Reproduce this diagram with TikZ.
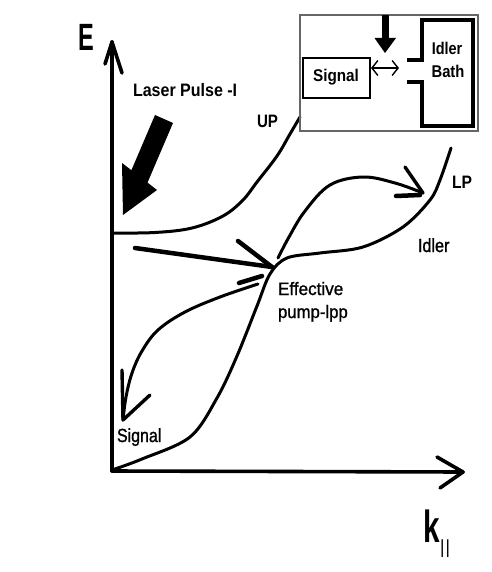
\documentclass[tikz,border=0pt]{standalone}
\usepackage{fontspec}
\setmainfont{Liberation Sans}
\newfontfamily\semib{Liberation Sans}[FakeBold=1.2]
\usetikzlibrary{arrows.meta}
\newcommand{\sqz}[2]{\scalebox{#1}[1]{#2}}
\begin{document}
\begin{tikzpicture}[x=1pt,y=-1pt,
  axis/.style={line width=3.6pt,line cap=round,line join=round},
  curve/.style={line width=3pt,line cap=round,line join=round},
  thickarr/.style={line width=4.5pt,line cap=round,line join=round},
  lbl/.style={inner sep=0pt,outer sep=0pt,font=\fontsize{18}{18}\selectfont\semib},
  blbl/.style={inner sep=0pt,outer sep=0pt,font=\fontsize{18}{18}\selectfont\bfseries},
  inset/.style={draw=black!60,line width=1.2pt},
  boxline/.style={line width=2.6pt},
  bath/.style={line width=4.5pt,line cap=butt,line join=miter}]
\useasboundingbox[fill=white] (0,0) rectangle (491,572);

% axes
\coordinate (O) at (112,471);
\coordinate (Ytip) at (112,42);
\coordinate (Xtip) at (463,472);
\draw[axis] (O) -- (Ytip);
\draw[axis] (105,64) -- (Ytip) -- (122,73);
\draw[axis] (O) -- (Xtip);
\draw[axis] (437,457) -- (Xtip) -- (440,488);

% axis labels
\node[inner sep=0pt,font=\fontsize{38}{38}\selectfont\bfseries] (E) at (86,37) {\sqz{0.62}{E}};
\node[inner sep=0pt,anchor=base west,font=\fontsize{45}{45}\selectfont\bfseries] (k) at (423,542) {\sqz{0.66}{k}};
\node[inner sep=0pt,anchor=base west,font=\fontsize{19}{19}\selectfont] (par) at (440,553) {\sqz{0.9}{|\kern1pt|}};

% UP curve
\draw[curve] plot[smooth,tension=0.6] coordinates {(112,233) (155,232.5) (192,228) (223,216) (243,200) (257,182) (277,156) (290,134) (300,117)};
% LP curve
\draw[curve] plot[smooth,tension=0.55] coordinates {(112,470) (142,459) (190,437) (217,398) (237,356) (257,306) (270,274) (287,258) (320,253) (363,247) (403,227) (430,200) (440,180) (451,148)};

% laser pulse arrow
\fill (155,115) -- (173,123) -- (147.5,182.6) -- (157,190) -- (123,215) -- (122,163) -- (131.4,170.2) -- cycle;

% straight pump arrow
\coordinate (Ptip) at (272,267);
\draw[thickarr] (135,248) -- (Ptip);
\draw[thickarr] (238,241) -- (Ptip);
\draw[thickarr] (239,283) -- (262,276);

% curved arrow to LP/idler
\coordinate (Ltip) at (423,193);
\draw[curve] plot[smooth,tension=0.6] coordinates {(278,258) (289,237) (305,211) (330,185) (363,177) (395,183) (Ltip)};
\draw[curve,line width=3.4pt] (405,167) -- (Ltip);
\draw[thickarr] (396,196) -- (420,195);

% curved arrow to signal
\coordinate (Stip) at (123,420);
\draw[curve] plot[smooth,tension=0.6] coordinates {(258,284) (220,297) (185,312) (158,330) (142,351) (132,373) (126,397) (Stip)};
\draw[curve,line width=3.4pt] (122,370) -- (Stip) -- (150,395);

% labels
\node[blbl,anchor=base west] (laser) at (133,97) {\sqz{0.89}{Laser Pulse -I}};
\node[blbl,anchor=base west] (UP) at (257,128) {\sqz{0.84}{UP}};
\node[blbl,anchor=base west] (LP) at (452,188) {\sqz{0.87}{LP}};
\node[lbl,anchor=base west,font=\fontsize{19}{19}\selectfont\semib] (idler) at (418,252) {\sqz{0.85}{Idler}};
\node[lbl,anchor=base west] (eff1) at (278,295) {\sqz{0.95}{Effective}};
\node[lbl,anchor=base west] (eff2) at (278,318) {\sqz{0.93}{pump-lpp}};
\node[lbl,anchor=base west,font=\fontsize{19}{19}\selectfont\semib] (sig) at (117,442) {\sqz{0.84}{Signal}};

% inset
\draw[inset] (300,15) rectangle (478,131);
\draw[boxline] (303,58) rectangle (370,98);
\node[inner sep=0pt,anchor=base,font=\fontsize{17}{17}\selectfont\bfseries] (sigbox) at (336,82) {\sqz{0.9}{Signal}};
\draw[bath] (407,60) -- (422,60) -- (422,20) -- (473,20) -- (473,126) -- (422,126) -- (422,82) -- (407,82);
\node[inner sep=0pt,anchor=base,font=\fontsize{17}{17}\selectfont\bfseries] (idl) at (447,55) {\sqz{0.85}{Idler}};
\node[inner sep=0pt,anchor=base,font=\fontsize{17}{17}\selectfont\bfseries] (bath) at (448,78) {\sqz{0.87}{Bath}};
% down arrow
\fill (381.5,15) rectangle (388.5,39);
\fill (374.5,38) -- (396,38) -- (385,53) -- cycle;
% double arrow
\coordinate (dl) at (371,68);
\coordinate (dr) at (399,68);
\draw[line width=1.4pt,{Straight Barb[length=6pt,width=15pt]}-{Straight Barb[length=6pt,width=15pt]}] (dl) -- (dr);
\end{tikzpicture}
\end{document}
